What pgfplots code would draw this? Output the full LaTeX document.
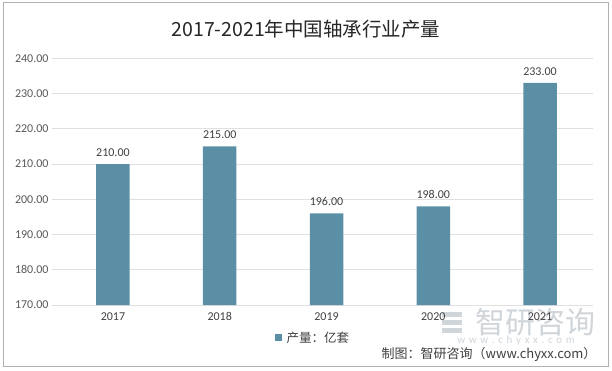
\documentclass[border=0pt]{standalone}
\usepackage{pgfplots}
\pgfplotsset{compat=1.18}
\usepackage{fontspec}
\setmainfont{Carlito}
\newfontfamily\cjk{Noto Sans CJK SC}
\definecolor{barc}{RGB}{91,143,166}
\definecolor{tickc}{RGB}{89,89,89}
\definecolor{labc}{RGB}{64,64,64}
\definecolor{wm}{RGB}{208,213,218}
\begin{document}
\begin{tikzpicture}[x=1pt,y=1pt]
\fill[white] (0,0) rectangle (612,370);
\draw[gray!60, line width=1pt] (3,4) rectangle (608,367);
% title
\node[font=\cjk\fontsize{19.5}{22}\selectfont, text=black!85] at (306,341) {2017-2021年中国轴承行业产量};
% watermark
\node[font=\cjk\fontsize{30}{32}\selectfont, text=wm, anchor=west] at (472,47.5) {智研咨询};
\fill[wm] (442,37) rectangle (462,42);
\fill[wm] (442,45) rectangle (462,50);
\fill[wm] (442,53) rectangle (462,58);
\node[font=\fontsize{11}{12}\selectfont, text=wm] at (516,29.5) {w\,\,w\,\,w\,\,.\,\,c\,\,h\,\,y\,\,x\,\,x\,\,.\,\,c\,\,o\,\,m};
\begin{axis}[
  at={(52pt,65pt)}, anchor=south west,
  scale only axis, width=541pt, height=246.7pt,
  ybar, bar width=33.5pt,
  ymin=170, ymax=240, ytick={170,180,...,240},
  xmin=-0.571, xmax=4.496,
  xtick={0,1,2,3,4}, xticklabels={2017,2018,2019,2020,2021},
  axis line style={draw=none}, major tick length=0pt,
  ymajorgrids, grid style={line width=0.8pt, black!12},
  yticklabel style={font=\fontsize{12}{13}\selectfont, text=tickc, /pgf/number format/.cd, fixed, fixed zerofill, precision=2, assume math mode=true},
  xticklabel style={font=\fontsize{12}{13}\selectfont, text=labc, yshift=-4pt},
  nodes near coords,
  nodes near coords style={font=\fontsize{12}{13}\selectfont, text=labc, yshift=4pt, /pgf/number format/.cd, fixed, fixed zerofill, precision=2, assume math mode=true},
  clip=false,
]
\addplot[fill=barc, draw=none] coordinates {(0,210) (1,215) (2,196) (3,198) (4,233)};
\end{axis}
% legend
\fill[barc] (275,29) rectangle (282,36);
\node[font=\cjk\fontsize{12.5}{14}\selectfont, text=labc, anchor=west] at (283,32.5) {产量：亿套};
% source
\node[font=\cjk\fontsize{13}{14}\selectfont, text=labc, anchor=east] at (600,16) {制图：智研咨询（www.chyxx.com）};
\end{tikzpicture}
\end{document}
